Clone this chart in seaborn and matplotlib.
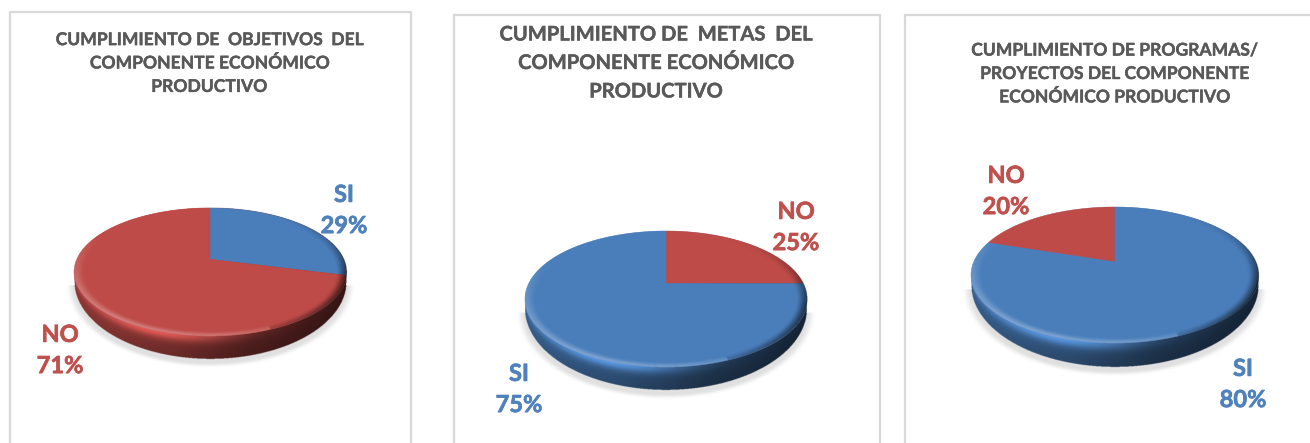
import numpy as np
import seaborn as sns
import matplotlib
matplotlib.use("Agg")
import matplotlib.pyplot as plt
import matplotlib.patheffects as pe
from matplotlib.patches import PathPatch, Rectangle
from matplotlib.path import Path

sns.set_theme(style="white")
plt.rcParams['font.family'] = ['Lato', 'DejaVu Sans']

W, H = 1310, 443
BLUE, RED = sns.color_palette(["#4a7ebb", "#be4b48"])
BLUE_TXT, RED_TXT = "#4f81bd", "#c0504d"
TITLE_COL = "#595959"

titles = ["CUMPLIMIENTO DE  OBJETIVOS  DEL\nCOMPONENTE ECONÓMICO\nPRODUCTIVO",
          "CUMPLIMIENTO DE  METAS  DEL\nCOMPONENTE ECONÓMICO\nPRODUCTIVO",
          "CUMPLIMIENTO DE PROGRAMAS/\nPROYECTOS DEL COMPONENTE\nECONÓMICO PRODUCTIVO"]
cats_1, vals_1 = ["SI", "NO"], [29, 71]
cats_2, vals_2 = ["NO", "SI"], [25, 75]
cats_3, vals_3 = ["SI", "NO"], [80, 20]

panels = [
    dict(cats=cats_1, vals=vals_1, title=titles[0], frame=(10, 12, 411), cx=210, cy=272, rx=136, ry=64, depth=23, a=0.2,
         tpos=(209, 63.5), tsize=12.6, tls=1.57, lab={"SI": (344, 210), "NO": (60, 350)}),
    dict(cats=cats_2, vals=vals_2, title=titles[1], frame=(454, 15, 880), cx=666, cy=299, rx=141, ry=68, depth=23, a=0.23,
         tpos=(656, 63), tsize=14.5, tls=1.53, lab={"NO": (796, 227), "SI": (519, 389)}),
    dict(cats=cats_3, vals=vals_3, title=titles[2], frame=(905, 15, 1330), cx=1114.5, cy=275, rx=143.5, ry=68, depth=24, a=0.2,
         tpos=(1114, 74), tsize=12.6, tls=1.57, lab={"NO": (1006, 191), "SI": (1243, 384)}),
]


def warp(xy, a):
    x, y = xy[:, 0], xy[:, 1]
    d = 1 + a * y
    return np.column_stack([x * np.sqrt(1 - a * a) / d, (y + a) / d])


def smooth(t):
    t = np.clip(t, 0, 1)
    return t * t * (3 - 2 * t)


fig = plt.figure(figsize=(W / 100, H / 100), dpi=100, facecolor="white")

for p in panels:
    l, t, r = p["frame"]
    fig.add_artist(Rectangle((l / W, -0.05), (r - l) / W, 1.05 - t / H, transform=fig.transFigure,
                             fill=False, ec="#d9d9d9", lw=1.6))
    cx, cy, rx, ry, depth = p["cx"], p["cy"], p["rx"], p["ry"], p["depth"]
    dn = depth / ry
    wall = dn * .42
    mx = 1.12
    top, bot = 1.1, 1 + dn + 0.25
    ax = fig.add_axes([(cx - mx * rx) / W, 1 - (cy + bot * ry) / H, 2 * mx * rx / W, (top + bot) * ry / H])
    ax.patch.set_alpha(0)
    main = RED if p["vals"][p["cats"].index("NO")] > 50 else BLUE
    main = np.array(main)
    colors = [BLUE if c == "SI" else RED for c in p["cats"]]

    # top face: pie wedges, with the apex moved by a perspective mapping of the disc
    wedges, _ = ax.pie(p["vals"], colors=colors, startangle=90, counterclock=False, radius=1)
    for w in wedges:
        th = np.radians(np.linspace(w.theta1, w.theta2, 300))
        arc = np.column_stack([np.cos(th), np.sin(th)]) * w.r
        xy = warp(np.vstack([[0, 0], arc, [0, 0]]), p["a"])
        ax.add_patch(PathPatch(Path(xy, closed=True), fc=w.get_facecolor(), ec=w.get_facecolor(), lw=0.3, zorder=3))
        w.remove()

    # side wall, shadow and bevel shading
    nx, ny = int(2 * mx * rx * 3), int((top + bot) * ry * 3)
    u, v = np.meshgrid(np.linspace(-mx, mx, nx), np.linspace(top, -bot, ny))
    rad = np.hypot(u, v)
    uc = np.clip(u, -.9999, .9999)
    root = np.sqrt(1 - uc ** 2)
    local = wall + (dn - wall) * root
    f = np.clip((-root - v) / local, 0, 1)
    ry_out = 1 + dn - wall
    outer = np.hypot(u, (v + wall) / ry_out)
    body = (rad <= 1) | ((np.abs(u) <= 1) & (v < 0) & (v >= -wall)) | ((v < -wall) & (outer <= 1))
    h = np.interp(u, [-1, -.3, .3, 1], [.80, .64, .42, .30])
    hl = np.exp(-((u + .35) / .55) ** 2)
    mult = h * (1 - .12 * f) + .55 * hl * np.exp(-(f / .3) ** 2)
    rgb = np.clip(main[None, None, :] * mult[..., None], 0, 1)
    shad = np.hypot(u / 1.015, (v + wall + .06) / (ry_out + .02))
    shad = np.where(v + wall + .06 > 0, 9, shad)
    sa = smooth((1.05 - shad) / .07)
    img = np.ones(u.shape + (4,))
    img[..., :3] = np.where(body[..., None], rgb, 0.88)
    img[..., 3] = np.where(body, 1.0, sa)
    ax.imshow(img, extent=(-mx, mx, -bot, top), aspect="auto", zorder=1, interpolation="bilinear")

    ring = smooth((rad - .92) / .08) * (rad <= 1.005)
    light = np.clip(-.55 * u - .8 * v, 0, 1) * ring
    dark = np.clip(u - .25, 0, 1) * np.clip(.9 - v, 0, 1) * ring
    ov = np.zeros(u.shape + (4,))
    ov[..., :3] = np.where((light * .3 >= dark * .75)[..., None], 1.0, 0.0)
    ov[..., 3] = np.maximum(light * .3, dark * .75)
    ax.imshow(ov, extent=(-mx, mx, -bot, top), aspect="auto", zorder=4, interpolation="bilinear")

    ax.set_aspect("auto")
    ax.set_xlim(-mx, mx)
    ax.set_ylim(-bot, top)
    ax.axis("off")

    tx, ty = p["tpos"]
    fig.text(tx / W, 1 - ty / H, p["title"], ha="center", va="center", color=TITLE_COL, fontsize=p["tsize"],
             fontweight="bold", linespacing=p["tls"], multialignment="center",
             path_effects=[pe.withStroke(linewidth=0.3, foreground=TITLE_COL)])
    for c, val in zip(p["cats"], p["vals"]):
        lx, ly = p["lab"][c]
        col = BLUE_TXT if c == "SI" else RED_TXT
        fig.text(lx / W, 1 - ly / H, f"{c}\n{val}%", ha="center", va="center", fontsize=17, fontweight="bold",
                 color=col, linespacing=1.43, multialignment="center",
                 path_effects=[pe.withStroke(linewidth=0.5, foreground=col)])

fig.savefig("out.png", dpi=100, facecolor="white")
